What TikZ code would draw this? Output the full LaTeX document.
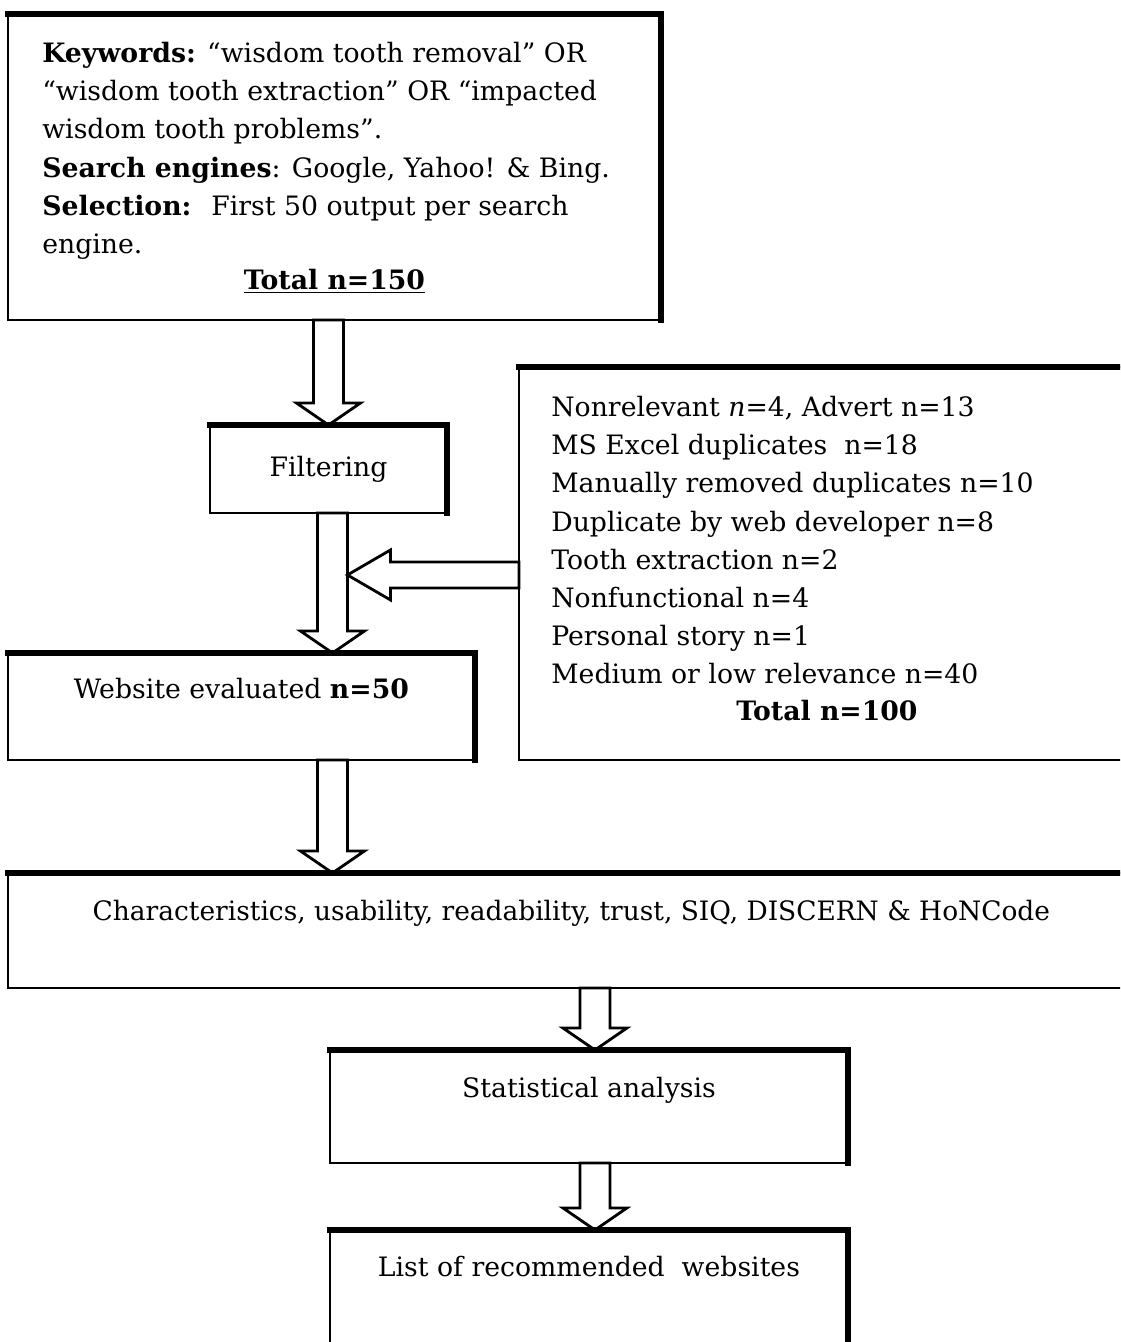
\documentclass[tikz,border=0pt]{standalone}
\usepackage{fontspec}
\setmainfont{DejaVu Serif}
\usepackage{graphicx}
\usetikzlibrary{positioning, calc}
\tikzset{
x=0.02cm, y=-0.02cm, % one unit is one pixel, y runs downwards
every node/.style={font=\fontsize{15.2}{21.7}\selectfont},
stage/.style={draw, line width=1.6pt, inner sep=0pt, outer sep=0pt, anchor=north west}, % a box of the flow
rim/.style={line width=3pt, line cap=rect}, % the heavy top and right edges
hollow/.style={draw, fill=white, line width=1.6pt, line join=miter}, % outline of a block arrow
caption/.style={anchor=base, inner sep=0pt}, % one line of text in a box
listing/.style={align=left, inner sep=0pt}, % several lines of text in a box
bshaft/.store in=\baShaft, bwing/.store in=\baWing, bhead/.store in=\baHead,
bshaft=0.3cm, bwing=0.64cm, bhead=0.44cm, % sizes of a block arrow
}
% hollow block arrow from #2 to #3
\newcommand{\blockarrow}[3][]{%
  \begin{scope}[#1]
    \coordinate (ba-tail) at (#2);
    \coordinate (ba-tip) at (#3);
    \coordinate (ba-neck) at ($(ba-tip)!\baHead!(ba-tail)$);
    \draw[hollow] ($(ba-tail)!\baShaft!90:(ba-tip)$) -- ($(ba-neck)!\baShaft!90:(ba-tip)$)
      -- ($(ba-neck)!\baWing!90:(ba-tip)$) -- (ba-tip) -- ($(ba-neck)!\baWing!-90:(ba-tip)$)
      -- ($(ba-neck)!\baShaft!-90:(ba-tip)$) -- ($(ba-tail)!\baShaft!-90:(ba-tip)$) -- cycle;
  \end{scope}}

\begin{document}
\begin{tikzpicture}
\useasboundingbox (0,0) rectangle (1120,1342);
\clip (0,0) rectangle (1120,1342);

\node[stage, minimum width=13.06cm, minimum height=6.12cm] (search) at (8,14) {};
\node[stage, minimum width=4.74cm, minimum height=1.76cm] (filter) at (210,425) {Filtering};
\node[stage, minimum width=12.32cm, minimum height=7.86cm] (excluded) at (519,367) {};
\node[stage, minimum width=9.34cm, minimum height=2.14cm] (evaluated) at (8,653) {};
\node[stage, minimum width=22.54cm, minimum height=2.3cm] (criteria) at (8,873) {};
\node[stage, minimum width=10.36cm, minimum height=2.26cm] (stats) at (330,1050) {};
\node[stage, minimum width=10.36cm, minimum height=2.6cm, below=1.34cm of stats] (recs) {};

% arrows
\coordinate (trunk) at ([xshift=0.08cm]filter.south);
\coordinate (lane) at ([xshift=0.12cm]stats.north);
\blockarrow{filter.north |- search.south}{filter.north}
\blockarrow{trunk}{trunk |- evaluated.north}
\blockarrow{trunk |- evaluated.south}{trunk |- criteria.north}
\blockarrow{lane |- criteria.south}{lane}
\blockarrow{lane |- stats.south}{lane |- recs.north}
\coordinate (merge) at ([xshift=0.3cm, yshift=-1.24cm]trunk);
\blockarrow[bshaft=0.26cm, bwing=0.5cm, bhead=0.86cm]{excluded.west |- merge}{merge}

\foreach \n in {search, filter, excluded, evaluated, criteria, stats, recs}
  \draw[rim] (\n.north west) -- (\n.north east) -- (\n.south east);

% texts
\node[listing, below right=0.56cm and 0.68cm of search.north west] (search-text)
  {\textbf{Keywords:} “wisdom tooth removal” OR\\
   “wisdom tooth extraction” OR “impacted\\
   wisdom tooth problems”.\\
   \textbf{Search engines}: Google, Yahoo! \& Bing.\\
   \textbf{Selection:}~ First 50 output per search\\
   engine.};
\node[caption] (search-total) at ([yshift=-5.52cm]search.north) {\underline{\textbf{Total n=150}}};
\node[listing, below right=0.58cm and 0.64cm of excluded.north west] (excluded-text)
  {Nonrelevant \textit{n}=4, Advert n=13\\
   MS Excel duplicates~ n=18\\
   Manually removed duplicates n=10\\
   Duplicate by web developer n=8\\
   Tooth extraction n=2\\
   Nonfunctional n=4\\
   Personal story n=1\\
   Medium or low relevance n=40};
\node[caption] (excluded-total) at ([yshift=-7.08cm]excluded.north) {\textbf{Total n=100}};
\node[caption] (evaluated-text) at ([yshift=-0.92cm]evaluated.north) {Website evaluated \textbf{n=50}};
\node[caption] (criteria-text) at ([yshift=-0.94cm]criteria.north)
  {\scalebox{0.99}[1]{Characteristics, usability, readability, trust, SIQ, DISCERN \& HoNCode}};
\node[caption] (stats-text) at ([yshift=-0.94cm]stats.north) {Statistical analysis};
\node[caption] (recs-text) at ([yshift=-0.94cm]recs.north) {List of recommended~ websites};
\end{tikzpicture}
\end{document}
